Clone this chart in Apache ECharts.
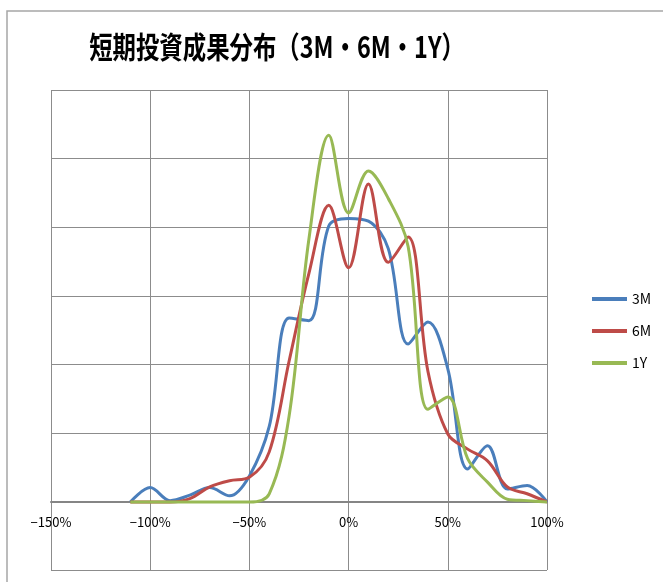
<!DOCTYPE html>
<html>
<head>
<meta charset="utf-8">
<script src="https://cdn.jsdelivr.net/npm/echarts@6/dist/echarts.min.js"></script>
<style>
  html, body { margin: 0; padding: 0; background: #fff; }
  #chart { width: 663px; height: 582px; }
</style>
</head>
<body>
<div id="chart"></div>
<script>
// Return buckets (%), one point every 10%
const returnBuckets = [-110, -100, -90, -80, -70, -60, -50, -40, -30, -20, -10, 0, 10, 20, 30, 40, 50, 60, 70, 80, 90, 100];

// Relative frequency of outcomes for each holding period
const series3M = [0, 0.21, 0.02, 0.10, 0.21, 0.09, 0.38, 1.10, 2.68, 2.64, 4.02, 4.13, 4.09, 3.69, 2.30, 2.62, 1.94, 0.48, 0.82, 0.19, 0.24, 0];
const series6M = [0, 0, 0, 0.05, 0.22, 0.31, 0.36, 0.73, 2.05, 3.33, 4.32, 3.41, 4.63, 3.49, 3.86, 1.90, 0.99, 0.77, 0.60, 0.22, 0.12, 0];
const series1Y = [0, 0, 0, 0, 0, 0, 0, 0.12, 1.25, 3.83, 5.34, 4.21, 4.82, 4.42, 3.72, 1.35, 1.53, 0.63, 0.29, 0.04, 0.02, 0];

const seriesNames = ['3M', '6M', '1Y'];
const seriesColors = ['#4A7EBB', '#BE4B48', '#98B954'];

// Axis ranges: the upper panel holds the curves, the lower panel is the empty band below zero
const xTicks = { min: -150, max: 100, step: 50 };
const yUpper = { min: 0, max: 6, step: 1 };
const yLower = { min: -1, max: 0, step: 1 };

const titleText = '短期投資成果分布（3M・6M・1Y）';

const pairs = (vals) => returnBuckets.map((x, i) => [x, vals[i]]);
const allValues = [series3M, series6M, series1Y];

const gridColor = '#8c8c8c';
const labelFont = '"Noto Sans CJK JP", sans-serif';

const chart = echarts.init(document.getElementById('chart'), null, { renderer: 'canvas' });

chart.setOption({
  animation: false,
  backgroundColor: '#ffffff',
  graphic: [
    {
      type: 'rect',
      shape: { x: 7, y: 11, width: 720, height: 640 },
      style: { fill: 'none', stroke: '#a6a6a6', lineWidth: 1.5 },
      silent: true,
      z: -10
    },
    {
      // Title in a condensed bold face
      type: 'text',
      x: 277,
      y: 47,
      scaleX: 0.78,
      style: {
        text: titleText,
        align: 'center',
        verticalAlign: 'middle',
        font: 'bold 30px "Noto Sans CJK JP", sans-serif',
        fill: '#000'
      },
      silent: true
    }
  ],
  legend: {
    orient: 'vertical',
    left: 592,
    top: 291,
    padding: 0,
    itemWidth: 35,
    itemHeight: 4,
    itemGap: 16,
    icon: 'rect',
    data: seriesNames,
    textStyle: {
      fontFamily: labelFont,
      fontSize: 14,
      lineHeight: 16,
      color: '#000'
    }
  },
  grid: [
    { left: 51, right: 116, top: 90, height: 412, containLabel: false, outerBoundsMode: 'none' },
    { left: 51, right: 116, top: 502, height: 68, containLabel: false, outerBoundsMode: 'none' }
  ],
  xAxis: [
    {
      gridIndex: 0,
      type: 'value',
      min: xTicks.min,
      max: xTicks.max,
      interval: xTicks.step,
      axisLine: { show: true, lineStyle: { color: '#858585', width: 2 } },
      axisTick: { show: false },
      axisLabel: {
        margin: 14,
        fontFamily: labelFont,
        fontSize: 13,
        color: '#000',
        formatter: (v) => (v < 0 ? '\u2212' + Math.abs(v) : v) + '%'
      },
      splitLine: { show: true, lineStyle: { color: gridColor, width: 1 } },
      z: 5
    },
    {
      gridIndex: 1,
      type: 'value',
      min: xTicks.min,
      max: xTicks.max,
      interval: xTicks.step,
      axisLine: { show: false },
      axisTick: { show: false },
      axisLabel: { show: false },
      splitLine: { show: true, lineStyle: { color: gridColor, width: 1 } }
    }
  ],
  yAxis: [
    {
      gridIndex: 0,
      type: 'value',
      min: yUpper.min,
      max: yUpper.max,
      interval: yUpper.step,
      axisLine: { show: false },
      axisTick: { show: false },
      axisLabel: { show: false },
      splitLine: { show: true, lineStyle: { color: gridColor, width: 1 } }
    },
    {
      gridIndex: 1,
      type: 'value',
      min: yLower.min,
      max: yLower.max,
      interval: yLower.step,
      axisLine: { show: false },
      axisTick: { show: false },
      axisLabel: { show: false },
      splitLine: { show: true, lineStyle: { color: gridColor, width: 1 } }
    }
  ],
  series: seriesNames.map((name, i) => ({
    name: name,
    type: 'line',
    xAxisIndex: 0,
    yAxisIndex: 0,
    smooth: 0.35,
    clip: false,
    showSymbol: false,
    data: pairs(allValues[i]),
    lineStyle: { color: seriesColors[i], width: 3 },
    itemStyle: { color: seriesColors[i] },
    z: 6 + i
  }))
});
</script>
</body>
</html>
